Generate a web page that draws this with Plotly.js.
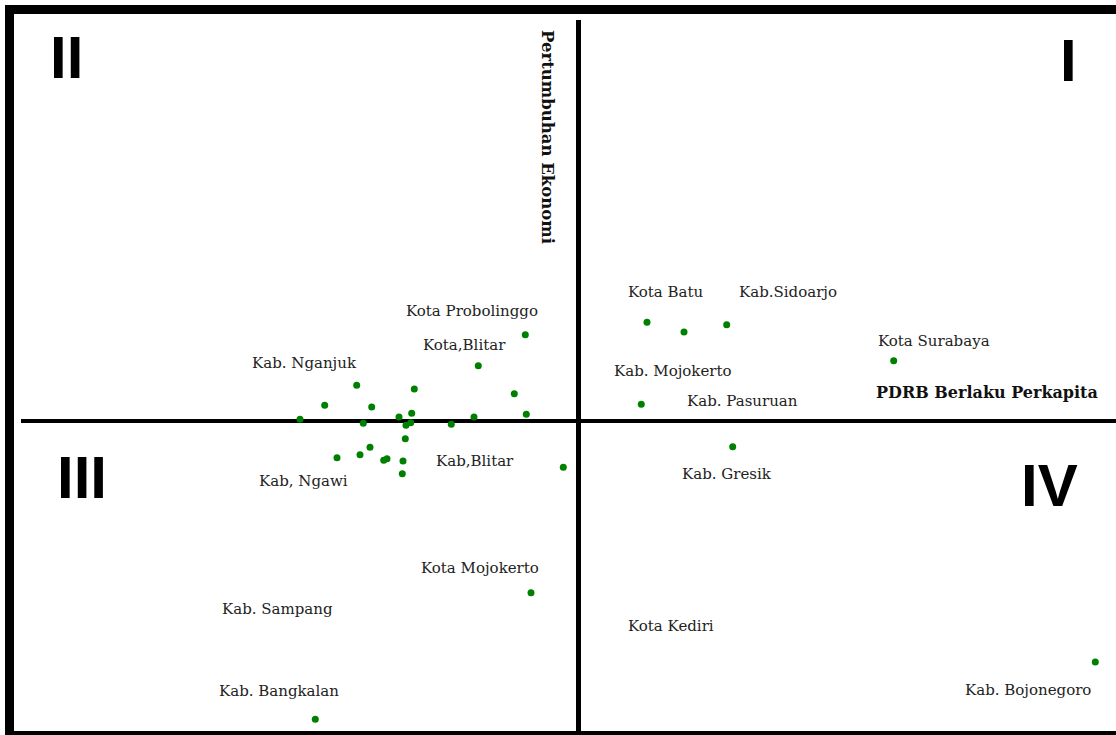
<!DOCTYPE html>
<html>
<head>
<meta charset="utf-8">
<script src="https://cdn.plot.ly/plotly-3.0.1.min.js"></script>
<style>html,body{margin:0;padding:0;background:#fff;}#chart{width:1116px;height:735px;}</style>
</head>
<body>
<div id="chart"></div>
<script>
// Selisih dari rata-rata Jawa Timur (PDRB perkapita, pertumbuhan ekonomi)
const pdrbDev = [-5.34, -10.04, -22.2, -16.44, -6.44, -25.4, -20.7, -5.24, -16.7, -17.97, -10.47, -27.87,
  -21.54, -17.27, -16.8, -12.74, -17.34, -20.87, -24.17, -21.87, -19.5, -19.17, -17.57, -17.64, -1.54,
  6.83, 10.53, 14.8, 31.5, 6.26, 15.4, -4.77, -26.34, 51.66];
const growthDev = [8.63, 5.53, 3.57, 3.2, 2.73, 1.57, 1.4, 0.67, 0.77, 0.4, 0.4, 0.17,
  -0.23, -0.43, -0.17, -0.33, -1.77, -2.63, -3.67, -3.37, -3.93, -3.77, -4.0, -5.27, -4.63,
  9.87, 8.9, 9.63, 6.03, 1.67, -2.57, -17.17, -29.83, -24.1];

const labelNames = ["Kota Probolinggo", "Kota,Blitar", "Kab. Nganjuk", "Kab,Blitar", "Kab, Ngawi",
  "Kota Batu", "Kab.Sidoarjo", "Kota Surabaya", "Kab. Mojokerto", "Kab. Pasuruan", "Kab. Gresik",
  "Kota Mojokerto", "Kab. Sampang", "Kab. Bangkalan", "Kota Kediri", "Kab. Bojonegoro"];
const labelX = [-10.72, -11.47, -27.42, -10.42, -27.57, 8.68, 20.93, 35.53, 9.43, 16.33, 14.83,
  -9.92, -30.12, -29.97, 9.18, 44.88];
const labelY = [11.0, 7.6, 5.8, -4.0, -6.0, 12.9, 12.9, 8.0, 5.0, 2.0, -5.3,
  -14.7, -18.8, -27.0, -20.5, -26.9];

const quadrantNames = ["I", "II", "III", "IV"];
const quadrantX = [48.93, -51.22, -49.67, 47.03];
const quadrantY = [36.05, 36.35, -5.6, -6.4];

const xTitle = "PDRB Berlaku Perkapita";
const yTitle = "Pertumbuhan Ekonomi";

const annotations = [];
labelNames.forEach((t, i) => annotations.push({
  x: labelX[i], y: labelY[i], xref: 'x', yref: 'y', text: t, showarrow: false,
  xanchor: 'center', yanchor: 'middle',
  font: {family: 'DejaVu Serif', size: 15, color: '#222'}
}));
quadrantNames.forEach((t, i) => annotations.push({
  x: quadrantX[i], y: quadrantY[i], xref: 'x', yref: 'y', text: '<b>' + t + '</b>', showarrow: false,
  xanchor: 'center', yanchor: 'middle',
  font: {family: 'Liberation Sans', size: 60, color: '#000'}
}));
annotations.push({
  x: 40.83, y: 2.9, xref: 'x', yref: 'y', text: '<b>' + xTitle + '</b>', showarrow: false,
  xanchor: 'center', yanchor: 'middle',
  font: {family: 'DejaVu Serif', size: 16, color: '#111'}
});
annotations.push({
  x: -3.07, y: 28.4, xref: 'x', yref: 'y', text: '<b>' + yTitle + '</b>', showarrow: false,
  textangle: 90, xanchor: 'center', yanchor: 'middle',
  font: {family: 'DejaVu Serif', size: 16.5, color: '#111'}
});

const trace = {
  type: 'scatter', mode: 'markers', x: pdrbDev, y: growthDev,
  marker: {color: '#008000', size: 7},
  hoverinfo: 'skip', cliponaxis: false
};

const layout = {
  width: 1116, height: 735,
  margin: {l: 21, r: 0, t: 20, b: 0},
  paper_bgcolor: '#fff', plot_bgcolor: '#fff',
  showlegend: false,
  xaxis: {range: [-55.77, 53.73], showgrid: false, showticklabels: false, ticks: '',
    zeroline: true, zerolinecolor: '#000', zerolinewidth: 4.5, showline: false, fixedrange: true},
  yaxis: {range: [-31.4, 40.1], showgrid: false, showticklabels: false, ticks: '',
    zeroline: true, zerolinecolor: '#000', zerolinewidth: 4.5, showline: false, fixedrange: true},
  annotations: annotations,
  shapes: [{
    type: 'rect', xref: 'paper', yref: 'paper',
    x0: -0.0105, x1: 1.00822, y0: -0.0007, y1: 1.01469,
    line: {color: '#000', width: 9}, fillcolor: 'rgba(0,0,0,0)', layer: 'above'
  }]
};

Plotly.newPlot('chart', [trace], layout, {staticPlot: true, displayModeBar: false});
</script>
</body>
</html>
